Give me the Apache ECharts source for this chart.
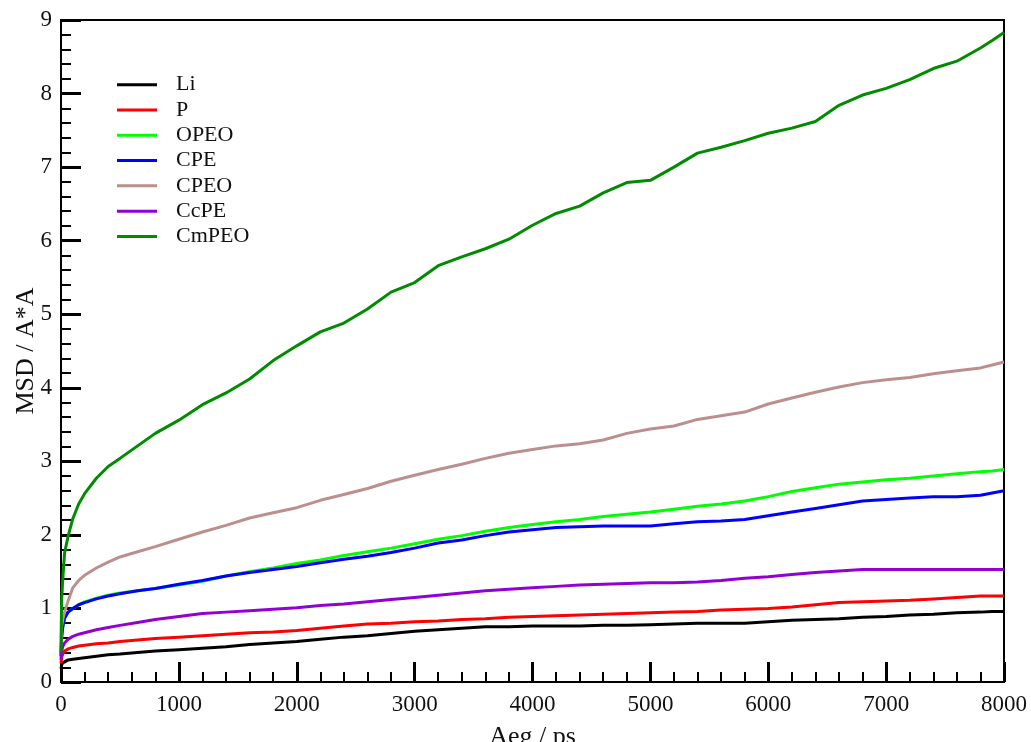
<!DOCTYPE html>
<html>
<head>
<meta charset="utf-8">
<script src="https://cdn.jsdelivr.net/npm/echarts@6/dist/echarts.min.js"></script>
<style>html,body{margin:0;padding:0;background:#fff}#c{width:1031px;height:742px}</style>
</head>
<body>
<div id="c"></div>
<script>
const times = [0, 5, 15, 30, 60, 100, 150, 200, 300, 400, 500, 650, 800, 1000, 1200, 1400, 1600, 1800, 2000, 2200, 2400, 2600, 2800, 3000, 3200, 3400, 3600, 3800, 4000, 4200, 4400, 4600, 4800, 5000, 5200, 5400, 5600, 5800, 6000, 6200, 6400, 6600, 6800, 7000, 7200, 7400, 7600, 7800, 7900, 8000];

const Li = [0.18, 0.23, 0.26, 0.28, 0.30, 0.31, 0.32, 0.33, 0.35, 0.37, 0.38, 0.40, 0.42, 0.44, 0.46, 0.48, 0.51, 0.53, 0.55, 0.58, 0.61, 0.63, 0.66, 0.69, 0.71, 0.73, 0.75, 0.75, 0.76, 0.76, 0.76, 0.77, 0.77, 0.78, 0.79, 0.80, 0.80, 0.80, 0.82, 0.84, 0.85, 0.86, 0.88, 0.89, 0.91, 0.92, 0.94, 0.95, 0.96, 0.96];
const P = [0.25, 0.33, 0.38, 0.42, 0.45, 0.47, 0.49, 0.50, 0.52, 0.53, 0.55, 0.57, 0.59, 0.61, 0.63, 0.65, 0.67, 0.68, 0.70, 0.73, 0.76, 0.79, 0.80, 0.82, 0.83, 0.85, 0.86, 0.88, 0.89, 0.90, 0.91, 0.92, 0.93, 0.94, 0.95, 0.96, 0.98, 0.99, 1.00, 1.02, 1.05, 1.08, 1.09, 1.10, 1.11, 1.13, 1.15, 1.17, 1.17, 1.17];
const OPEO = [0.35, 0.60, 0.75, 0.86, 0.95, 1.00, 1.05, 1.09, 1.14, 1.18, 1.21, 1.24, 1.27, 1.32, 1.37, 1.44, 1.50, 1.55, 1.61, 1.66, 1.72, 1.77, 1.82, 1.88, 1.94, 1.99, 2.05, 2.10, 2.14, 2.18, 2.21, 2.25, 2.28, 2.31, 2.35, 2.39, 2.42, 2.46, 2.52, 2.59, 2.64, 2.69, 2.72, 2.75, 2.77, 2.80, 2.83, 2.86, 2.87, 2.89];
const CPE = [0.35, 0.60, 0.75, 0.87, 0.95, 1.00, 1.05, 1.08, 1.13, 1.17, 1.20, 1.24, 1.27, 1.33, 1.38, 1.44, 1.49, 1.53, 1.57, 1.62, 1.67, 1.71, 1.76, 1.82, 1.89, 1.93, 1.99, 2.04, 2.07, 2.10, 2.11, 2.12, 2.12, 2.12, 2.15, 2.18, 2.19, 2.21, 2.26, 2.31, 2.36, 2.41, 2.46, 2.48, 2.50, 2.52, 2.52, 2.54, 2.57, 2.60];
const CPEO = [0.40, 0.75, 0.85, 0.95, 1.10, 1.28, 1.38, 1.45, 1.55, 1.63, 1.70, 1.77, 1.84, 1.94, 2.04, 2.13, 2.23, 2.30, 2.37, 2.47, 2.55, 2.63, 2.73, 2.81, 2.89, 2.96, 3.04, 3.11, 3.16, 3.21, 3.24, 3.29, 3.38, 3.44, 3.48, 3.57, 3.62, 3.67, 3.78, 3.86, 3.94, 4.01, 4.07, 4.11, 4.14, 4.19, 4.23, 4.27, 4.31, 4.35];
const CcPE = [0.30, 0.42, 0.48, 0.53, 0.58, 0.62, 0.65, 0.67, 0.71, 0.74, 0.77, 0.81, 0.85, 0.89, 0.93, 0.95, 0.97, 0.99, 1.01, 1.04, 1.06, 1.09, 1.12, 1.15, 1.18, 1.21, 1.24, 1.26, 1.28, 1.30, 1.32, 1.33, 1.34, 1.35, 1.35, 1.36, 1.38, 1.41, 1.43, 1.46, 1.49, 1.51, 1.53, 1.53, 1.53, 1.53, 1.53, 1.53, 1.53, 1.53];
const CmPEO = [0.40, 1.10, 1.40, 1.75, 1.98, 2.22, 2.42, 2.56, 2.77, 2.93, 3.04, 3.21, 3.38, 3.56, 3.77, 3.93, 4.12, 4.37, 4.57, 4.76, 4.88, 5.07, 5.30, 5.43, 5.66, 5.78, 5.89, 6.02, 6.21, 6.37, 6.47, 6.65, 6.79, 6.82, 7.00, 7.19, 7.27, 7.36, 7.46, 7.53, 7.62, 7.84, 7.98, 8.07, 8.19, 8.34, 8.44, 8.62, 8.72, 8.83];

const seriesNames = ['Li', 'P', 'OPEO', 'CPE', 'CPEO', 'CcPE', 'CmPEO'];
const seriesData = [Li, P, OPEO, CPE, CPEO, CcPE, CmPEO];
const seriesColors = ['#000000', '#ff0000', '#00ff00', '#0000ff', '#bc8f8f', '#9400d3', '#008b00'];

const xTitle = 'Aeg / ps';
const yTitle = 'MSD / A*A';

const font = "'Liberation Serif', 'Times New Roman', serif";

const chart = echarts.init(document.getElementById('c'), null, {renderer: 'canvas'});
chart.setOption({
  animation: false,
  backgroundColor: '#ffffff',
  grid: {left: 61, right: 27, top: 20, bottom: 60, show: true, borderColor: '#000', borderWidth: 2, containLabel: false, outerBoundsMode: 'none'},
  legend: {
    left: 117, top: 72, orient: 'vertical', padding: 0,
    itemWidth: 40, itemHeight: 3, itemGap: 0, icon: 'rect',
    textStyle: {fontFamily: font, fontSize: 22, color: '#111', lineHeight: 25.3, padding: [0, 0, 0, 14]},
    data: seriesNames
  },
  xAxis: {
    type: 'value', min: 0, max: 8000, interval: 1000,
    name: xTitle, nameLocation: 'middle', nameGap: 42, nameMoveOverlap: false,
    nameTextStyle: {fontFamily: font, fontSize: 26, color: '#111'},
    axisLine: {show: true, lineStyle: {color: '#000', width: 2}},
    axisTick: {show: true, inside: true, length: 20, lineStyle: {color: '#000', width: 3}},
    minorTick: {show: true, splitNumber: 5, length: 10, lineStyle: {color: '#000', width: 2}},
    axisLabel: {fontFamily: font, fontSize: 23, color: '#111', margin: 11, formatter: v => String(v)},
    splitLine: {show: false}
  },
  yAxis: {
    type: 'value', min: 0, max: 9, interval: 1,
    name: yTitle, nameLocation: 'middle', nameGap: 22, nameRotate: 90, nameMoveOverlap: false,
    nameTextStyle: {fontFamily: font, fontSize: 26, color: '#111'},
    axisLine: {show: true, lineStyle: {color: '#000', width: 2}},
    axisTick: {show: true, inside: true, length: 20, lineStyle: {color: '#000', width: 3}},
    minorTick: {show: true, splitNumber: 5, length: 10, lineStyle: {color: '#000', width: 2}},
    axisLabel: {fontFamily: font, fontSize: 23, color: '#111', margin: 9, formatter: v => String(v)},
    splitLine: {show: false}
  },
  series: seriesNames.map((n, i) => ({
    name: n, type: 'line', showSymbol: false, symbol: 'none',
    data: times.map((t, j) => [t, seriesData[i][j]]),
    lineStyle: {color: seriesColors[i], width: 3},
    itemStyle: {color: seriesColors[i]},
    clip: true
  }))
});
</script>
</body>
</html>
